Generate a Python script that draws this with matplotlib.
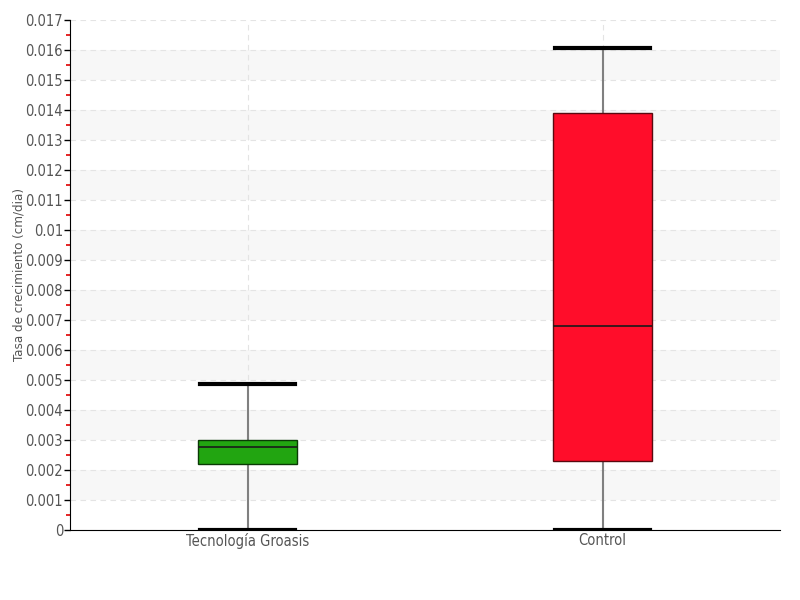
import matplotlib
matplotlib.use("Agg")
import matplotlib.pyplot as plt
from matplotlib.ticker import MultipleLocator, FuncFormatter

plt.rcParams['font.family'] = ['DejaVu Sans']
plt.rcParams['font.stretch'] = 'condensed'

# datos
grupos = ['Tecnología Groasis', 'Control']
minimos = [0.0, 0.0]
q1 = [0.0022, 0.0023]
medianas = [0.00277, 0.0068]
q3 = [0.0030, 0.0139]
maximos = [0.00487, 0.01607]
colores = ['#22a511', '#ff0d2a']
bordes = ['#0a3a05', '#5a0a10']

fig = plt.figure(figsize=(8, 6), dpi=100)
ax = fig.add_axes([0.0875, 0.1167, 0.8875, 0.85])

# bandas alternas
for i in range(17):
    if i % 2 == 1:
        ax.axhspan(i * 0.001, (i + 1) * 0.001, color='#f7f7f7', zorder=0, lw=0)
ax.set_axisbelow(True)
ax.yaxis.grid(True, color='#e4e4e4', linestyle=(0, (5, 4)), lw=0.8)
ax.xaxis.grid(True, color='#e4e4e4', linestyle=(0, (5, 4)), lw=0.8)

stats = []
for i in range(len(grupos)):
    stats.append({'whislo': minimos[i], 'q1': q1[i], 'med': medianas[i],
                  'q3': q3[i], 'whishi': maximos[i], 'fliers': []})

bp = ax.bxp(stats, positions=range(len(grupos)), widths=0.28, patch_artist=True,
            showfliers=False,
            whiskerprops=dict(color='#808080', lw=1.5),
            capprops=dict(color='black', lw=3),
            medianprops=dict(color='#1a1a1a', lw=1.2),
            capwidths=0.27)
for caja, c, b in zip(bp['boxes'], colores, bordes):
    caja.set_facecolor(c)
    caja.set_edgecolor(b)
    caja.set_linewidth(1)
    caja.set_zorder(3)
for m in bp['medians']:
    m.set_zorder(4)

ax.set_xlim(-0.5, 1.5)
ax.set_ylim(0, 0.017)
ax.set_xticks(range(len(grupos)))
ax.set_xticklabels(grupos)
ax.yaxis.set_major_locator(MultipleLocator(0.001))
ax.yaxis.set_minor_locator(MultipleLocator(0.0005))
ax.yaxis.set_major_formatter(FuncFormatter(lambda v, p: '%g' % round(v, 4)))
ax.tick_params(axis='y', which='major', length=4, width=1, color='black',
               labelsize=10.5, labelcolor='#555555', pad=1)
ax.tick_params(axis='y', which='minor', length=3, width=1.2, color='#e00000')
ax.tick_params(axis='x', length=0, labelsize=10.5, labelcolor='#555555', pad=2)

for s in ['top', 'right']:
    ax.spines[s].set_visible(False)
ax.spines['left'].set_color('black')
ax.spines['bottom'].set_color('black')

ax.set_ylabel('Tasa de crecimiento (cm/dia)', fontsize=9.5, color='#555555')
ax.yaxis.set_label_coords(-0.062, 0.5)

fig.savefig('out.png', dpi=100)
